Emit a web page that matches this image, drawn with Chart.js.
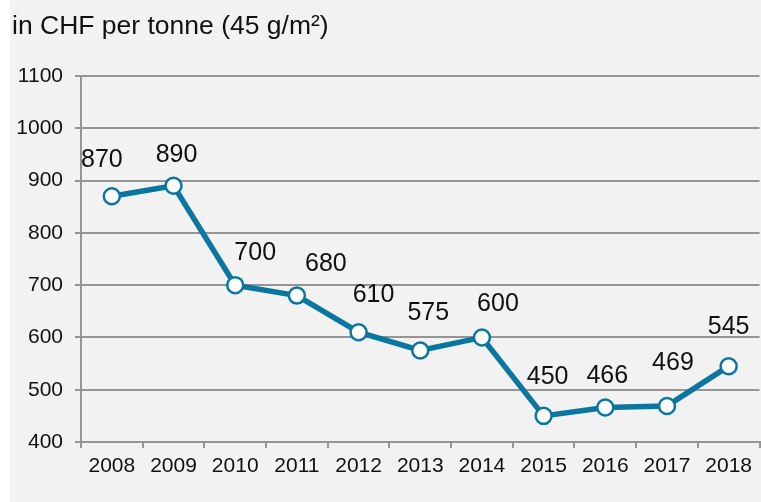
<!DOCTYPE html>
<html>
<head>
<meta charset="utf-8">
<script src="https://cdn.jsdelivr.net/npm/chart.js@4.4.1/dist/chart.umd.min.js"></script>
<style>
  html, body { margin: 0; padding: 0; background: #ffffff; width: 761px; height: 502px; overflow: hidden; }
  #panel { position: absolute; left: 10px; top: 0; width: 751px; height: 502px; background: #f2f2f2; }
  #c { position: absolute; left: 0; top: 0; }
</style>
</head>
<body>
<div id="panel"></div>
<canvas id="c" width="770" height="502"></canvas>
<script>
const titleText = 'in CHF per tonne (45 g/m²)';
const years = ['2008','2009','2010','2011','2012','2013','2014','2015','2016','2017','2018'];
const prices = [870, 890, 700, 680, 610, 575, 600, 450, 466, 469, 545];
const yTicks = [400, 500, 600, 700, 800, 900, 1000, 1100];
// label placement offsets (dx, dy) relative to each point, as in the original
const labelOffsets = [[-10,-36],[3,-31],[20,-32],[29,-31],[15,-37],[8,-37],[16,-33],[4,-39],[2,-31],[6,-43],[0,-39]];

const FONT = "'Liberation Sans', Arial, sans-serif";
const GRID = '#959595';
const LINE = '#0b77a1';

const dataLabels = {
  id: 'dataLabels',
  afterDatasetsDraw(chart) {
    const ctx = chart.ctx;
    const meta = chart.getDatasetMeta(0);
    ctx.save();
    ctx.font = "25px " + FONT;
    ctx.fillStyle = '#111111';
    ctx.textAlign = 'center';
    ctx.textBaseline = 'middle';
    meta.data.forEach((pt, i) => {
      const o = labelOffsets[i] || [0, -36];
      ctx.fillText(String(prices[i]), pt.x + o[0], pt.y + o[1]);
    });
    ctx.restore();
  }
};

new Chart(document.getElementById('c'), {
  type: 'line',
  data: {
    labels: years,
    datasets: [{
      data: prices,
      borderColor: LINE,
      borderWidth: 5.5,
      pointRadius: 8,
      pointBorderWidth: 2.5,
      pointBackgroundColor: '#ffffff',
      pointBorderColor: LINE,
      tension: 0,
      fill: false
    }]
  },
  options: {
    responsive: false,
    devicePixelRatio: 1,
    animation: false,
    layout: { padding: { top: 0, left: 12, right: 4, bottom: 0 } },
    plugins: {
      legend: { display: false },
      tooltip: { enabled: false },
      title: {
        display: true,
        text: titleText,
        align: 'start',
        color: '#111111',
        font: { family: FONT, size: 26.5, weight: 'normal', lineHeight: 1.2 },
        padding: { top: 11, bottom: 33.2 }
      }
    },
    scales: {
      x: {
        type: 'category',
        offset: true,
        grid: { offset: true, drawOnChartArea: false, drawTicks: true, tickLength: 6, color: GRID, lineWidth: 2 },
        border: { display: true, color: GRID, width: 2 },
        ticks: { color: '#111111', font: { family: FONT, size: 21 }, padding: 6, maxRotation: 0, autoSkip: false },
        afterFit(s) { s.height = 60; }
      },
      y: {
        min: 400,
        max: 1100,
        afterBuildTicks(s) { s.ticks = yTicks.map(v => ({ value: v })); },
        grid: { color: GRID, lineWidth: 2, drawTicks: true, tickLength: 6 },
        border: { display: true, color: GRID, width: 2 },
        ticks: { color: '#111111', font: { family: FONT, size: 21 }, padding: 12, callback: v => String(v) },
        afterFit(s) { s.width = 69; }
      }
    }
  },
  plugins: [dataLabels]
});
</script>
</body>
</html>
